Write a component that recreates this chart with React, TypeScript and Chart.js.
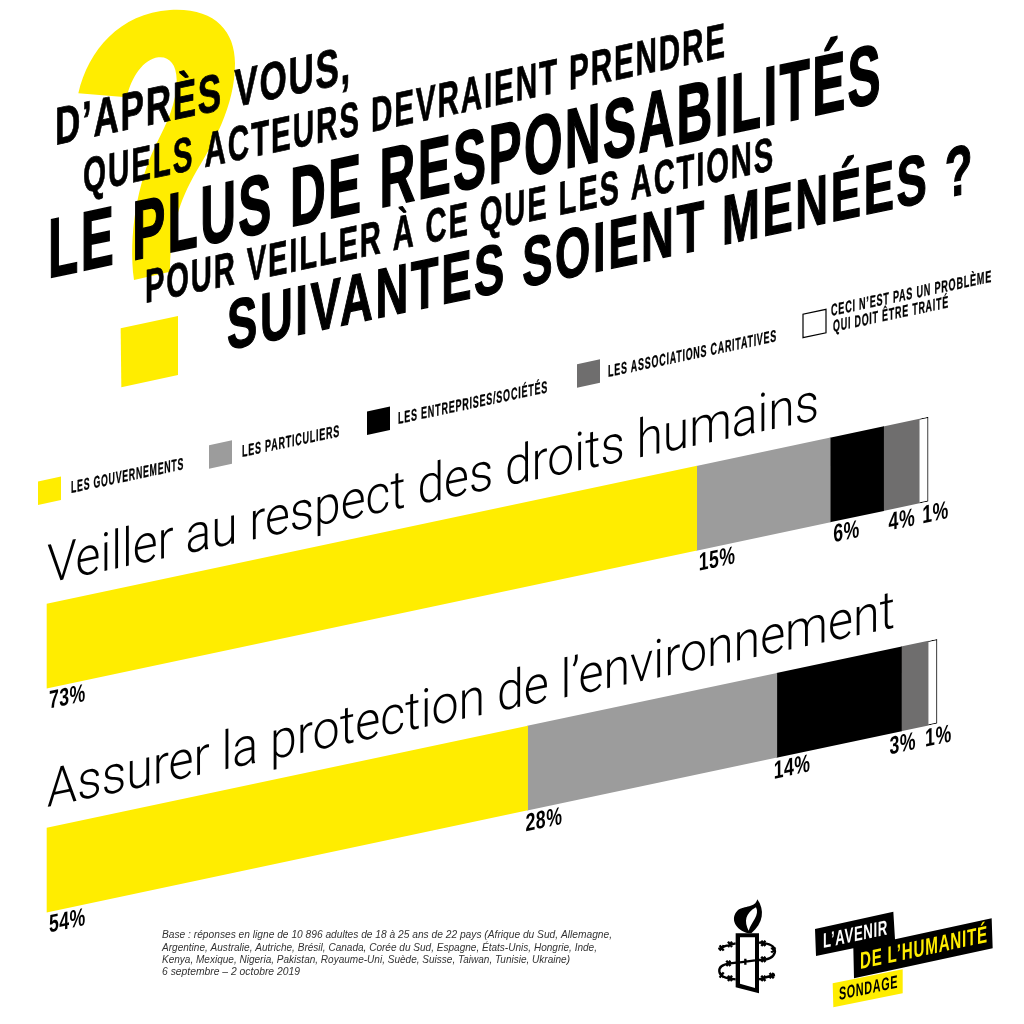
import React, { useEffect, useRef } from "react";
import { Chart, registerables } from "chart.js";

Chart.register(...registerables);

const categories = ["Veiller au respect des droits humains", "Assurer la protection de l’environnement"];
const seriesNames = [
  "LES GOUVERNEMENTS",
  "LES PARTICULIERS",
  "LES ENTREPRISES/SOCIÉTÉS",
  "LES ASSOCIATIONS CARITATIVES",
  "CECI N’EST PAS UN PROBLÈME|QUI DOIT ÊTRE TRAITÉ",
];
const gouvernements = [73, 54];
const particuliers = [15, 28];
const entreprises = [6, 14];
const associations = [4, 3];
const pasUnProbleme = [1, 1];
const colors = ["#ffed00", "#9c9c9c", "#000000", "#6f6e6e", "#ffffff"];

const titleLines = [
  "D’APRÈS VOUS,",
  "QUELS ACTEURS DEVRAIENT PRENDRE",
  "LE PLUS DE RESPONSABILITÉS",
  "POUR VEILLER À CE QUE LES ACTIONS",
  "SUIVANTES SOIENT MENÉES ?",
];
const footnote = [
  "Base : réponses en ligne de 10 896 adultes de 18 à 25 ans de 22 pays (Afrique du Sud, Allemagne,",
  "Argentine, Australie, Autriche, Brésil, Canada, Corée du Sud, Espagne, États-Unis, Hongrie, Inde,",
  "Kenya, Mexique, Nigeria, Pakistan, Royaume-Uni, Suède, Suisse, Taiwan, Tunisie, Ukraine)",
  "6 septembre – 2 octobre 2019",
];

const SLOPE = 0.212;
const NARROW = '"Liberation Sans", sans-serif';
const LIGHT = 'Roboto, "Liberation Sans", sans-serif';

function fit(
  ctx: CanvasRenderingContext2D,
  text: string,
  x: number,
  y: number,
  right: number,
  cap: number,
  o: { color?: string; font?: string; weight?: string; spacing?: number; capRatio?: number; slope?: number; stroke?: number } = {}
) {
  const size = cap / (o.capRatio ?? 0.716);
  ctx.save();
  ctx.font = `${o.weight ?? "bold"} ${size}px ${o.font ?? NARROW}`;
  (ctx as any).letterSpacing = `${o.spacing ?? 0}px`;
  ctx.textBaseline = "alphabetic";
  ctx.textAlign = "left";
  ctx.fillStyle = o.color ?? "#000";
  const w = ctx.measureText(text).width;
  const sx = (right - x) / w;
  const s = o.slope ?? SLOPE;
  ctx.transform(sx, -s * sx, 0, 1, x, y);
  ctx.fillText(text, 0, 0);
  if (o.stroke) {
    ctx.strokeStyle = o.color ?? "#000";
    ctx.lineWidth = o.stroke;
    ctx.lineJoin = "miter";
    ctx.strokeText(text, 0, 0);
  }
  ctx.restore();
}

function questionMark(ctx: CanvasRenderingContext2D) {
  ctx.save();
  ctx.translate(30, 10);
  ctx.scale(1 / 3, 1 / 3);
  ctx.fillStyle = colors[0];
  ctx.beginPath();
  ctx.moveTo(145, 250);
  ctx.bezierCurveTo(175, 120, 270, 10, 420, 0);
  ctx.bezierCurveTo(550, -8, 615, 60, 615, 160);
  ctx.bezierCurveTo(615, 290, 550, 400, 490, 500);
  ctx.bezierCurveTo(440, 590, 420, 680, 420, 785);
  ctx.lineTo(312, 810);
  ctx.bezierCurveTo(295, 680, 320, 520, 380, 400);
  ctx.bezierCurveTo(410, 340, 440, 280, 440, 210);
  ctx.bezierCurveTo(440, 160, 415, 138, 385, 142);
  ctx.bezierCurveTo(340, 148, 305, 200, 290, 262);
  ctx.closePath();
  ctx.fill();
  ctx.beginPath();
  ctx.moveTo(272, 955);
  ctx.lineTo(444, 918);
  ctx.lineTo(444, 1095);
  ctx.lineTo(274, 1132);
  ctx.closePath();
  ctx.fill();
  ctx.restore();
}

function legend(ctx: CanvasRenderingContext2D) {
  const squares: [number, number][] = [[38, 505], [209, 468.7], [367, 435], [577, 387.7], [803, 337.7]];
  const labels: [number, number, number][] = [[71, 493, 184], [242, 457, 340], [398, 424, 548], [608, 377, 777], [831, 316, 992]];
  squares.forEach(([x, y], i) => {
    const w = 23;
    const h = 23.5;
    ctx.beginPath();
    ctx.moveTo(x, y);
    ctx.lineTo(x + w, y - w * SLOPE);
    ctx.lineTo(x + w, y - w * SLOPE - h);
    ctx.lineTo(x, y - h);
    ctx.closePath();
    ctx.fillStyle = colors[i];
    ctx.fill();
    if (i === 4) {
      ctx.strokeStyle = "#000";
      ctx.lineWidth = 1.2;
      ctx.stroke();
    }
    const parts = seriesNames[i].split("|");
    const [lx, ly, lr] = labels[i];
    fit(ctx, parts[0], lx, ly, lr, 12, { spacing: 1.4, stroke: 0.3 });
    if (parts[1]) fit(ctx, parts[1], 833, 332, 949, 12, { spacing: 1.4, stroke: 0.3 });
  });
}

function logos(ctx: CanvasRenderingContext2D) {
  ctx.save();
  ctx.translate(680, 880);
  ctx.scale(1 / 3, 1 / 3);
  const poly = (pts: number[][], fill: string) => {
    ctx.beginPath();
    pts.forEach(([x, y], i) => (i ? ctx.lineTo(x, y) : ctx.moveTo(x, y)));
    ctx.closePath();
    ctx.fillStyle = fill;
    ctx.fill();
  };
  // flame
  ctx.fillStyle = "#000";
  ctx.beginPath();
  ctx.moveTo(206, 160);
  ctx.bezierCurveTo(165, 150, 150, 115, 172, 92);
  ctx.bezierCurveTo(195, 75, 225, 85, 232, 58);
  ctx.bezierCurveTo(255, 90, 250, 130, 214, 160);
  ctx.closePath();
  ctx.fill();
  ctx.fillStyle = "#fff";
  ctx.beginPath();
  ctx.moveTo(206, 152);
  ctx.bezierCurveTo(192, 125, 195, 100, 228, 82);
  ctx.bezierCurveTo(240, 105, 215, 125, 206, 152);
  ctx.closePath();
  ctx.fill();
  // wire
  ctx.strokeStyle = "#000";
  ctx.lineWidth = 7;
  ctx.beginPath();
  ctx.moveTo(167, 190);
  ctx.quadraticCurveTo(140, 195, 115, 207);
  ctx.moveTo(237, 188);
  ctx.quadraticCurveTo(285, 190, 285, 215);
  ctx.quadraticCurveTo(280, 240, 237, 240);
  ctx.lineTo(150, 250);
  ctx.quadraticCurveTo(115, 255, 118, 275);
  ctx.quadraticCurveTo(120, 295, 167, 298);
  ctx.moveTo(237, 298);
  ctx.quadraticCurveTo(260, 290, 285, 285);
  const barbs = [[125, 204], [150, 193], [250, 190], [280, 210], [250, 238], [145, 250], [125, 285], [150, 295], [250, 295], [275, 287]];
  barbs.forEach(([x, y]) => {
    ctx.moveTo(x - 6, y - 8);
    ctx.lineTo(x + 6, y + 8);
    ctx.moveTo(x + 6, y - 8);
    ctx.lineTo(x - 6, y + 8);
  });
  ctx.stroke();
  // candle
  poly([[167, 160], [237, 160], [237, 340], [167, 322]], "#000");
  poly([[180, 172], [225, 172], [225, 324], [180, 311]], "#fff");
  // wire in front of the candle
  ctx.beginPath();
  ctx.moveTo(180, 247);
  ctx.lineTo(225, 241);
  ctx.moveTo(196, 236);
  ctx.lineTo(196, 254);
  ctx.stroke();
  // badge
  poly([[405, 147], [640, 95], [645, 178], [935, 115], [938, 205], [522, 295], [520, 205], [408, 228]], "#000");
  poly([[458, 310], [668, 268], [668, 340], [460, 382]], colors[0]);
  ctx.restore();
  fit(ctx, "L’AVENIR", 823, 948, 888, 15, { color: "#fff", spacing: 1 });
  fit(ctx, "DE L’HUMANITÉ", 860, 969, 988, 17, { color: colors[0], spacing: 1.2 });
  fit(ctx, "SONDAGE", 839, 1000, 898, 13, { color: "#000", spacing: 1 });
}

const layoutPlugin = {
  id: "poster",
  beforeDraw(chart: any) {
    const ctx = chart.ctx;
    ctx.save();
    ctx.fillStyle = "#fff";
    ctx.fillRect(0, 0, chart.width, chart.height);
    ctx.restore();
    questionMark(ctx);
  },
  beforeDatasetsDraw(chart: any) {
    const ctx = chart.ctx;
    ctx.save();
    ctx.transform(1, -SLOPE, 0, 1, 0, SLOPE * chart.chartArea.left);
  },
  afterDatasetsDraw(chart: any) {
    chart.ctx.restore();
  },
  afterDraw(chart: any) {
    const ctx = chart.ctx;
    const xs = chart.scales.x;
    const ys = chart.scales.y;
    const BAR = chart.options.datasets.bar.barThickness as number;
    const skewY = (x: number, y: number) => y - SLOPE * (x - chart.chartArea.left);

    const t: [number, number, number, number, number, number][] = [
      [55, 145, 352, 38, 2.6, 0.8],
      [83, 193, 727, 35, 3, 0.7],
      [48, 278, 883, 60, 4, 1.6],
      [145, 303, 775, 34, 3, 0.7],
      [227, 350, 975, 50, 4, 1.3],
    ];
    titleLines.forEach((line, i) => fit(ctx, line, t[i][0], t[i][1], t[i][2], t[i][3], { spacing: t[i][4], stroke: t[i][5] }));

    legend(ctx);

    const titleRight = [819, 895];
    const nudges = [[2, 2, 3, 5, 3], [2, -2, -3, -12, -3]];
    categories.forEach((cat, r) => {
      const top = ys.getPixelForValue(r) - BAR / 2;
      const bottom = top + BAR;
      fit(ctx, cat, 47, top - 21, titleRight[r], 38, { font: LIGHT, weight: "300", capRatio: 0.711 });
      let cum = 0;
      chart.data.datasets.forEach((ds: any, i: number) => {
        const v = ds.data[r];
        const x = xs.getPixelForValue(cum) + nudges[r][i];
        const label = `${v}%`;
        const sz = 18 / 0.716;
        ctx.save();
        ctx.font = `bold ${sz}px ${NARROW}`;
        const w = ctx.measureText(label).width;
        ctx.restore();
        fit(ctx, label, x, skewY(x, bottom + 21), x + w * 0.73, 18, { slope: SLOPE, spacing: 0.6 });
        cum += v;
      });
    });

    const fr = [612, 597, 570, 300];
    const fy = [938, 951, 963, 975];
    footnote.forEach((l, i) => {
      ctx.save();
      ctx.font = `italic 10.5px "Liberation Sans", sans-serif`;
      ctx.fillStyle = "#333";
      const w = ctx.measureText(l).width;
      ctx.translate(162, fy[i]);
      ctx.scale((fr[i] - 162) / w, 1);
      ctx.fillText(l, 0, 0);
      ctx.restore();
    });

    logos(ctx);
  },
};

export default function App() {
  const ref = useRef<HTMLCanvasElement>(null);
  useEffect(() => {
    const values = [gouvernements, particuliers, entreprises, associations, pasUnProbleme];
    const chart = new Chart(ref.current!, {
      type: "bar",
      plugins: [layoutPlugin],
      data: {
        labels: categories,
        datasets: values.map((data, i) => ({
          label: seriesNames[i].replace("|", " "),
          data,
          backgroundColor: colors[i],
          borderColor: i === 4 ? "#000" : colors[i],
          borderWidth: i === 4 ? 1 : 0,
          clip: false as any,
        })),
      },
      options: {
        indexAxis: "y",
        responsive: false,
        animation: false,
        devicePixelRatio: 1,
        layout: { padding: { left: 47, right: 87, top: 534, bottom: 42 } },
        datasets: { bar: { barThickness: 84 } },
        plugins: { legend: { display: false }, tooltip: { enabled: false }, title: { display: false } },
        scales: {
          x: { stacked: true, min: 0, max: 100, display: false },
          y: { stacked: true, display: false },
        },
      } as any,
    });
    return () => chart.destroy();
  }, []);
  return (
    <canvas
      ref={ref}
      width={1024}
      height={1024}
      style={{ position: "fixed", left: 0, top: 0, width: 1024, height: 1024, display: "block" }}
    />
  );
}
